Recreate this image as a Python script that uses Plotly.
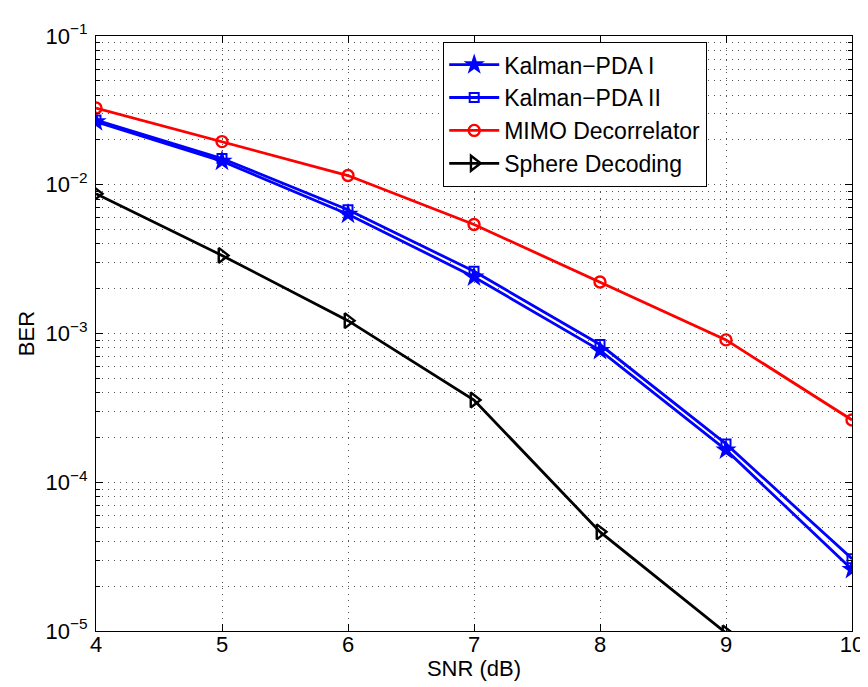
import plotly.graph_objects as go

snr = [4, 5, 6, 7, 8, 9, 10]
kalman_pda_1 = [0.0265, 0.0144, 0.00634, 0.00240, 0.00077, 0.000165, 0.0000259]
kalman_pda_2 = [0.0272, 0.0150, 0.00680, 0.00262, 0.000843, 0.000181, 0.0000306]
mimo_decorr = [0.0328, 0.0195, 0.01153, 0.00541, 0.00222, 0.000906, 0.000262]
snr_sphere = [4, 5, 6, 7, 8, 9]
sphere_dec = [0.0087, 0.00335, 0.00122, 0.000357, 0.0000464, 0.0000097]

x_ticks = [4, 5, 6, 7, 8, 9, 10]
y_ticks = [1e-5, 1e-4, 1e-3, 1e-2, 1e-1]
y_ticktext = ["10<sup>−5</sup>", "10<sup>−4</sup>", "10<sup>−3</sup>", "10<sup>−2</sup>", "10<sup>−1</sup>"]
y_minor = [m * 10.0 ** e for e in range(-5, -1) for m in range(2, 10)]

FONT = "Liberation Sans, Arial, Helvetica, sans-serif"
GRID = "#555555"
DASH = "1px,5px"

fig = go.Figure()
fig.add_trace(go.Scatter(
    x=snr, y=kalman_pda_1, name="Kalman−PDA I", mode="lines+markers",
    line=dict(color="#0000ff", width=2.8),
    marker=dict(symbol="star", size=16, color="#0000ff", line=dict(width=0)),
))
fig.add_trace(go.Scatter(
    x=snr, y=kalman_pda_2, name="Kalman−PDA II", mode="lines+markers",
    line=dict(color="#0000ff", width=2.8),
    marker=dict(symbol="square-open", size=9, color="#0000ff", line=dict(width=2)),
))
fig.add_trace(go.Scatter(
    x=snr, y=mimo_decorr, name="MIMO Decorrelator", mode="lines+markers",
    line=dict(color="#ff0000", width=2.8),
    marker=dict(symbol="circle-open", size=11, color="#ff0000", line=dict(width=2.4)),
))
fig.add_trace(go.Scatter(
    x=snr_sphere, y=sphere_dec, name="Sphere Decoding", mode="lines+markers",
    line=dict(color="#000000", width=2.8),
    marker=dict(symbol="triangle-right-open", size=13, color="#000000", line=dict(width=2.4)),
))

axis_common = dict(
    showline=True, linecolor="black", linewidth=1.2, mirror="ticks",
    ticks="inside", ticklen=7, tickcolor="black",
    showgrid=True, gridcolor=GRID, griddash=DASH, gridwidth=1,
    zeroline=False, tickfont=dict(family=FONT, size=22, color="black"),
)

fig.update_xaxes(
    range=[4, 10], tickvals=x_ticks, ticktext=[str(v) for v in x_ticks],
    ticklabelstandoff=-7,
    title=dict(text="SNR (dB)", font=dict(family=FONT, size=22, color="black"), standoff=0),
    **axis_common,
)
fig.update_yaxes(
    type="log", range=[-5, -1], tickvals=y_ticks, ticktext=y_ticktext,
    ticklabelstandoff=3,
    title=dict(text="BER", font=dict(family=FONT, size=22, color="black"), standoff=4),
    minor=dict(tickvals=y_minor, ticks="inside", ticklen=4, tickcolor="black",
               showgrid=True, gridcolor=GRID, griddash=DASH, gridwidth=1),
    **axis_common,
)

fig.update_layout(
    width=868, height=687,
    margin=dict(l=88, r=18, t=24, b=64),
    paper_bgcolor="white", plot_bgcolor="white",
    font=dict(family=FONT, size=22, color="black"),
    showlegend=True,
    legend=dict(
        x=0.459, y=0.99, xanchor="left", yanchor="top",
        bgcolor="white", bordercolor="black", borderwidth=1.2,
        font=dict(family=FONT, size=23, color="black"),
        tracegroupgap=0, itemwidth=50,
    ),
)

fig.write_html("out.html")
